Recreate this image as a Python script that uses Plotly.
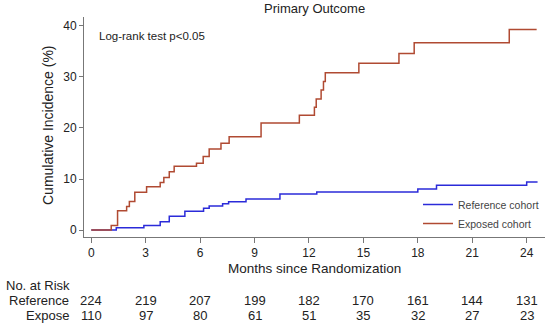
import plotly.graph_objects as go

# Exposed cohort step curve (months, cumulative incidence %)
exp_t = [0, 1.1, 1.45, 1.95, 2.1, 2.4, 3.05, 3.8, 4.0, 4.3, 4.57, 5.8, 6.17, 6.5, 7.15, 7.6, 9.36, 11.47, 12.3, 12.4, 12.67, 12.8, 12.9, 14.75, 16.96, 17.8, 23.04, 24.55]
exp_v = [0, 0.9, 3.8, 4.6, 5.6, 7.4, 8.5, 9.3, 10.3, 11.4, 12.5, 13.1, 14.4, 15.9, 17.0, 18.3, 21.0, 22.5, 24.05, 25.7, 27.45, 29.1, 30.85, 32.7, 34.6, 36.7, 39.3, 39.3]

# Reference cohort step curve
ref_t = [0, 1.38, 2.9, 3.8, 4.3, 5.16, 6.19, 6.5, 7.24, 7.57, 8.53, 10.4, 12.43, 18.0, 19.03, 24.0, 24.6]
ref_v = [0, 0.45, 0.9, 1.6, 2.7, 3.7, 4.25, 4.7, 5.16, 5.55, 6.08, 7.06, 7.45, 8.04, 8.76, 9.4, 9.4]

tick_months = [0, 3, 6, 9, 12, 15, 18, 21, 24]
risk_reference = [224, 219, 207, 199, 182, 170, 161, 144, 131]
risk_expose = [110, 97, 80, 61, 51, 35, 32, 27, 23]

FONT = "Liberation Sans, Arial, sans-serif"
W, H = 550, 327
ML, MR, MT, MB = 84, 5, 17, 90
PW, PH = W - ML - MR, H - MT - MB

def py(p):
    return (H - MB - p) / PH

def px(p):
    return (p - ML) / PW

fig = go.Figure()
fig.add_trace(go.Scatter(x=ref_t, y=ref_v, mode="lines", line=dict(color="#2b2bd9", width=1.5, shape="hv"),
                         name="Reference cohort"))
fig.add_trace(go.Scatter(x=exp_t, y=exp_v, mode="lines", line=dict(color="#b04a32", width=1.5, shape="hv"),
                         name="Exposed cohort"))

TXT = "#222"
ann = []
ann.append(dict(text="Primary Outcome", x=px(314), y=py(9), xref="paper", yref="paper", showarrow=False,
                font=dict(size=13, color=TXT), xanchor="center", yanchor="middle"))
ann.append(dict(text="Log-rank test p<0.05", x=px(97), y=py(36), xref="paper", yref="paper", showarrow=False,
                font=dict(size=11.5, color=TXT), xanchor="left", yanchor="middle"))
ann.append(dict(text="Cumulative Incidence (%)", x=px(48), y=py(125), xref="paper", yref="paper", showarrow=False,
                textangle=-90, font=dict(size=14, color=TXT), xanchor="center", yanchor="middle"))
ann.append(dict(text="Months since Randomization", x=px(314), y=py(268), xref="paper", yref="paper", showarrow=False,
                font=dict(size=13.5, color=TXT), xanchor="center", yanchor="middle"))
ann.append(dict(text="No. at Risk", x=px(4), y=py(285), xref="paper", yref="paper", showarrow=False,
                font=dict(size=13, color=TXT), xanchor="left", yanchor="middle"))
ann.append(dict(text="Reference", x=px(71), y=py(300), xref="paper", yref="paper", showarrow=False,
                font=dict(size=13, color=TXT), xanchor="right", yanchor="middle"))
ann.append(dict(text="Expose", x=px(71), y=py(315), xref="paper", yref="paper", showarrow=False,
                font=dict(size=13, color=TXT), xanchor="right", yanchor="middle"))
for m, r, e in zip(tick_months, risk_reference, risk_expose):
    ann.append(dict(text=str(r), x=m, y=py(300), xref="x", yref="paper", showarrow=False,
                    font=dict(size=13, color=TXT), xanchor="center", yanchor="middle"))
    ann.append(dict(text=str(e), x=m, y=py(315), xref="x", yref="paper", showarrow=False,
                    font=dict(size=13, color=TXT), xanchor="center", yanchor="middle"))

fig.update_layout(
    width=W, height=H,
    margin=dict(l=ML, r=MR, t=MT, b=MB),
    paper_bgcolor="white", plot_bgcolor="white",
    font=dict(family=FONT, color=TXT),
    showlegend=True,
    legend=dict(x=px(418), y=py(190), xanchor="left", yanchor="top", font=dict(size=10.5, color="#444"),
                bgcolor="rgba(0,0,0,0)", tracegroupgap=0, itemwidth=30),
    annotations=ann,
    xaxis=dict(range=[-0.40, 25.01], tickvals=tick_months, ticks="outside", ticklen=5, tickcolor="#777",
               showline=True, linecolor="#777", linewidth=1, showgrid=False, zeroline=False,
               tickfont=dict(size=12, color=TXT)),
    yaxis=dict(range=[-1.37, 41.76], tickvals=[0, 10, 20, 30, 40], ticks="outside", ticklen=4, tickcolor="#777",
               showline=True, linecolor="#777", linewidth=1, showgrid=False, zeroline=False,
               tickfont=dict(size=12, color=TXT)),
)
fig.write_html("out.html", config={"displayModeBar": False},
               post_script="document.body.style.margin='0';document.body.style.padding='0';")
